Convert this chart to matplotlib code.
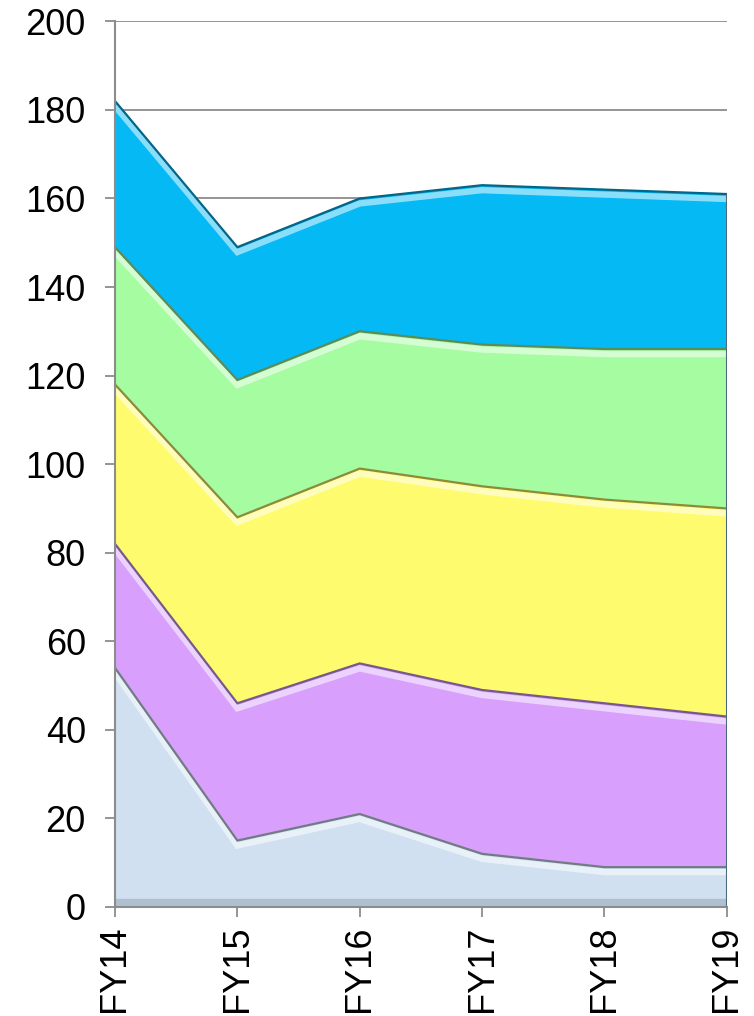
import numpy as np
import matplotlib
matplotlib.use("Agg")
import matplotlib.pyplot as plt
from matplotlib.transforms import offset_copy
import matplotlib.colors as mcolors

plt.rcParams['font.family'] = ['Liberation Sans', 'DejaVu Sans']

categories = ["FY14", "FY15", "FY16", "FY17", "FY18", "FY19"]
series1 = [54, 15, 21, 12, 9, 9]
series2 = [28, 31, 34, 37, 37, 34]
series3 = [36, 42, 44, 46, 46, 47]
series4 = [31, 31, 31, 32, 34, 36]
series5 = [33, 30, 30, 36, 36, 35]
yticks = [0, 20, 40, 60, 80, 100, 120, 140, 160, 180, 200]

colors = ["#D0E0F0", "#D8A0FC", "#FEFC6E", "#A6FCA0", "#05B9F4"]

fig = plt.figure(figsize=(7.54, 10.16), dpi=100)
ax = fig.add_axes([0.1525, 0.1073, 0.964 - 0.1525, 0.979 - 0.1073])

x = np.arange(len(categories))
data = [series1, series2, series3, series4, series5]

for yv in yticks[1:]:
    ax.axhline(yv, color="#8C8C8C", lw=1.3, zorder=0)

ax.stackplot(x, *data, colors=colors, zorder=2, linewidth=0)

cum = np.cumsum(np.array(data, dtype=float), axis=0)
for i in range(len(data)):
    top = cum[i]
    base = colors[i]
    rgb = np.array(mcolors.to_rgb(base))
    light = tuple(rgb + (1 - rgb) * 0.6)
    dark = tuple(rgb * 0.55)
    tr = offset_copy(ax.transData, fig=fig, x=0, y=-5, units='dots')
    ax.plot(x, top, color=light, lw=4.5, transform=tr, zorder=3, alpha=0.9,
            solid_capstyle='butt', solid_joinstyle='miter')
    ax.plot(x, top, color=dark, lw=1.6, zorder=4, solid_joinstyle='miter')

# subtle darker band at the bottom of the lowest layer
trb = offset_copy(ax.transData, fig=fig, x=0, y=4, units='dots')
ax.plot([x[0], x[-1]], [0, 0], color="#AFC0D0", lw=6, transform=trb, zorder=3)

ax.vlines(x[-1], 0, cum[-1][-1], color="#4a6a80", lw=1.5, zorder=4)

ax.set_xlim(x[0], x[-1])
ax.set_ylim(0, 200)
ax.set_yticks(yticks)
ax.set_xticks(x)
ax.set_xticklabels(categories, rotation=90, fontsize=26)
ax.set_yticklabels([str(v) for v in yticks], fontsize=26)

for s in ["top", "right"]:
    ax.spines[s].set_visible(False)
for s in ["left", "bottom"]:
    ax.spines[s].set_color("#8C8C8C")
    ax.spines[s].set_linewidth(1.5)
    ax.spines[s].set_zorder(5)
ax.tick_params(axis='both', color="#8C8C8C", width=1.3, length=7, direction='out')
ax.tick_params(axis='y', pad=14)
ax.tick_params(axis='x', pad=6)

fig.savefig("out.png", dpi=100)
